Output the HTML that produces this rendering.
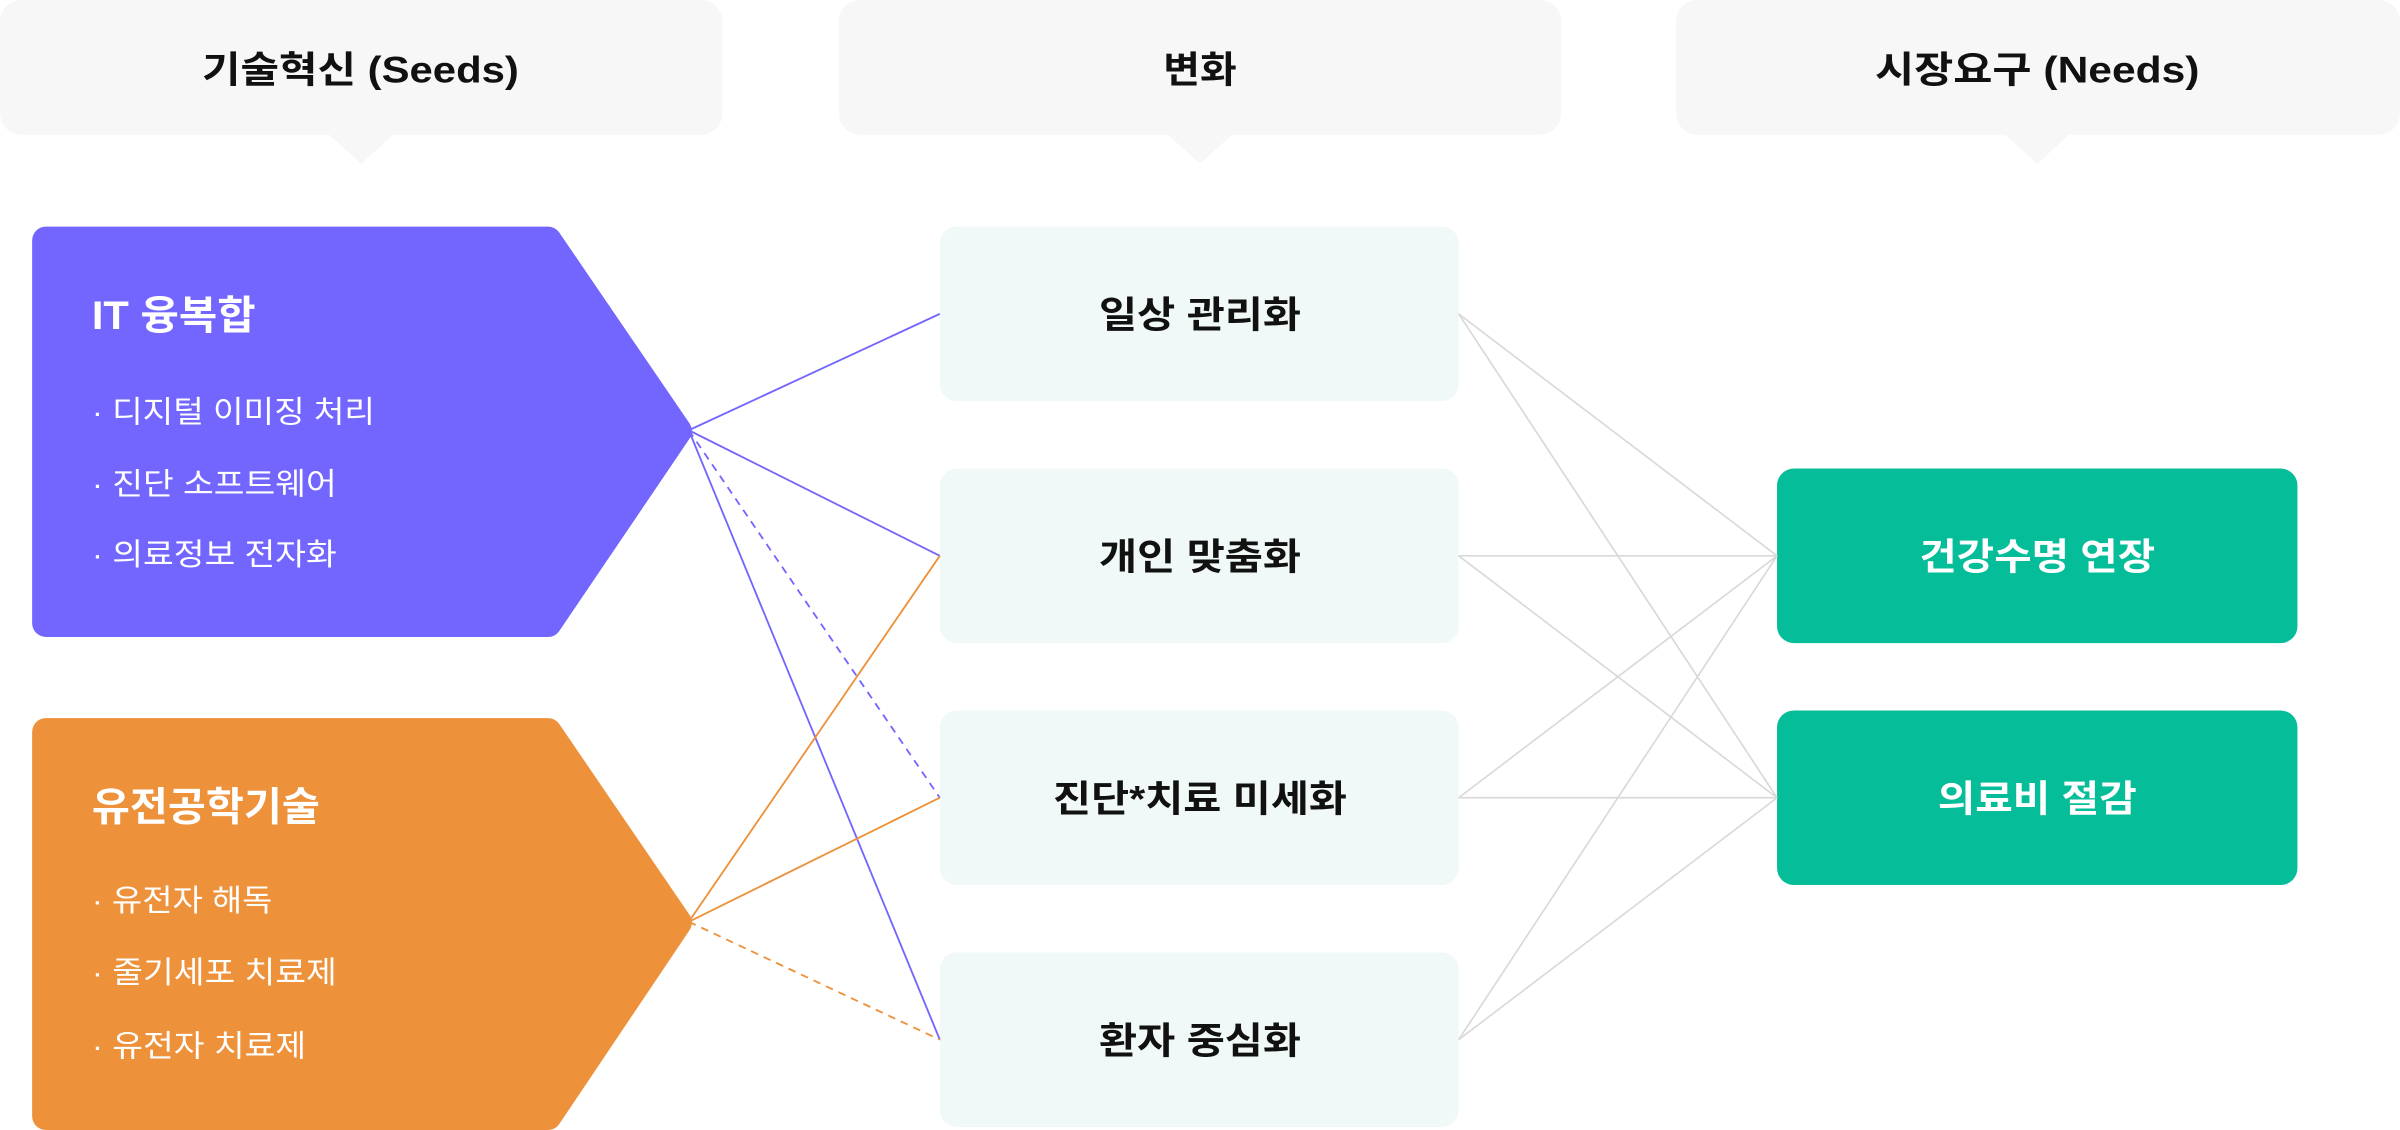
<!DOCTYPE html>
<html><head><meta charset="utf-8"><style>
html,body{margin:0;padding:0;background:#fff;width:2400px;height:1130px;overflow:hidden}
svg{display:block}
text{font-family:"Liberation Sans","Noto Sans CJK KR",sans-serif}
</style></head><body>
<svg width="2400" height="1130" viewBox="0 0 1568 738" preserveAspectRatio="none" xmlns="http://www.w3.org/2000/svg">
<g fill="#f7f7f7">
<rect x="0" y="0" width="472" height="88" rx="14"/>
<polygon points="214,87 258,87 236,107"/>
<rect x="548" y="0" width="472" height="88" rx="14"/>
<polygon points="762,87 806,87 784,107"/>
<rect x="1095" y="0" width="473" height="88" rx="14"/>
<polygon points="1309,87 1353,87 1331,107"/>
</g>
<g font-size="24" font-weight="bold" fill="#111" lengthAdjust="spacingAndGlyphs">
<text x="132" y="54" textLength="207" lengthAdjust="spacingAndGlyphs">기술혁신 (Seeds)</text>
<text x="760" y="54" textLength="48" lengthAdjust="spacingAndGlyphs">변화</text>
<text x="1225" y="54" textLength="212" lengthAdjust="spacingAndGlyphs">시장요구 (Needs)</text>
</g>
<path d="M30,157 L358,157 L443,281.5 L358,407 L30,407 Z" fill="#7366ff" stroke="#7366ff" stroke-width="18" stroke-linejoin="round"/>
<path d="M30,478 L358,478 L443,602.5 L358,729 L30,729 Z" fill="#ed913a" stroke="#ed913a" stroke-width="18" stroke-linejoin="round"/>
<g fill="#fff">
<text x="60" y="215" font-size="26" font-weight="bold" textLength="107" lengthAdjust="spacingAndGlyphs">IT 융복합</text>
<text x="60" y="276" font-size="20" textLength="185" lengthAdjust="spacingAndGlyphs">· 디지털 이미징 처리</text>
<text x="60" y="323" font-size="20" textLength="160" lengthAdjust="spacingAndGlyphs">· 진단 소프트웨어</text>
<text x="60" y="369" font-size="20" textLength="160" lengthAdjust="spacingAndGlyphs">· 의료정보 전자화</text>
<text x="60" y="536" font-size="26" font-weight="bold" textLength="149" lengthAdjust="spacingAndGlyphs">유전공학기술</text>
<text x="60" y="595" font-size="20" textLength="118" lengthAdjust="spacingAndGlyphs">· 유전자 해독</text>
<text x="60" y="642" font-size="20" textLength="160" lengthAdjust="spacingAndGlyphs">· 줄기세포 치료제</text>
<text x="60" y="690" font-size="20" textLength="140" lengthAdjust="spacingAndGlyphs">· 유전자 치료제</text>
</g>
<g fill="#f1f9f8">
<rect x="614" y="148" width="339" height="114" rx="11"/>
<rect x="614" y="306" width="339" height="114" rx="11"/>
<rect x="614" y="464" width="339" height="114" rx="11"/>
<rect x="614" y="622" width="339" height="114" rx="11"/>
</g>
<g font-size="24" font-weight="bold" fill="#111">
<text x="718" y="214" textLength="132" lengthAdjust="spacingAndGlyphs">일상 관리화</text>
<text x="718" y="372" textLength="132" lengthAdjust="spacingAndGlyphs">개인 맞춤화</text>
<text x="688" y="530" textLength="192" lengthAdjust="spacingAndGlyphs">진단*치료 미세화</text>
<text x="718" y="688" textLength="132" lengthAdjust="spacingAndGlyphs">환자 중심화</text>
</g>
<g fill="#05bd99">
<rect x="1161" y="306" width="340" height="114" rx="11"/>
<rect x="1161" y="464" width="340" height="114" rx="11"/>
</g>
<g font-size="24" font-weight="bold" fill="#fff">
<text x="1254" y="372" textLength="154" lengthAdjust="spacingAndGlyphs">건강수명 연장</text>
<text x="1266" y="530" textLength="130" lengthAdjust="spacingAndGlyphs">의료비 절감</text>
</g>
<g stroke="#7366ff" stroke-width="1.2" fill="none">
<line x1="450" y1="281" x2="614" y2="205"/>
<line x1="450" y1="281" x2="614" y2="363"/>
<line x1="450" y1="281" x2="614" y2="521" stroke-dasharray="5,4"/>
<line x1="450" y1="281" x2="614" y2="679"/>
</g>
<g stroke="#ed913a" stroke-width="1.2" fill="none">
<line x1="450" y1="602" x2="614" y2="363"/>
<line x1="450" y1="602" x2="614" y2="521"/>
<line x1="450" y1="602" x2="614" y2="679" stroke-dasharray="5,4"/>
</g>
<g stroke="#d9d9d9" stroke-width="1.1" fill="none">
<line x1="953" y1="205" x2="1161" y2="363"/>
<line x1="953" y1="205" x2="1161" y2="521"/>
<line x1="953" y1="363" x2="1161" y2="363"/>
<line x1="953" y1="363" x2="1161" y2="521"/>
<line x1="953" y1="521" x2="1161" y2="363"/>
<line x1="953" y1="521" x2="1161" y2="521"/>
<line x1="953" y1="679" x2="1161" y2="363"/>
<line x1="953" y1="679" x2="1161" y2="521"/>
</g>
</svg>
</body></html>
